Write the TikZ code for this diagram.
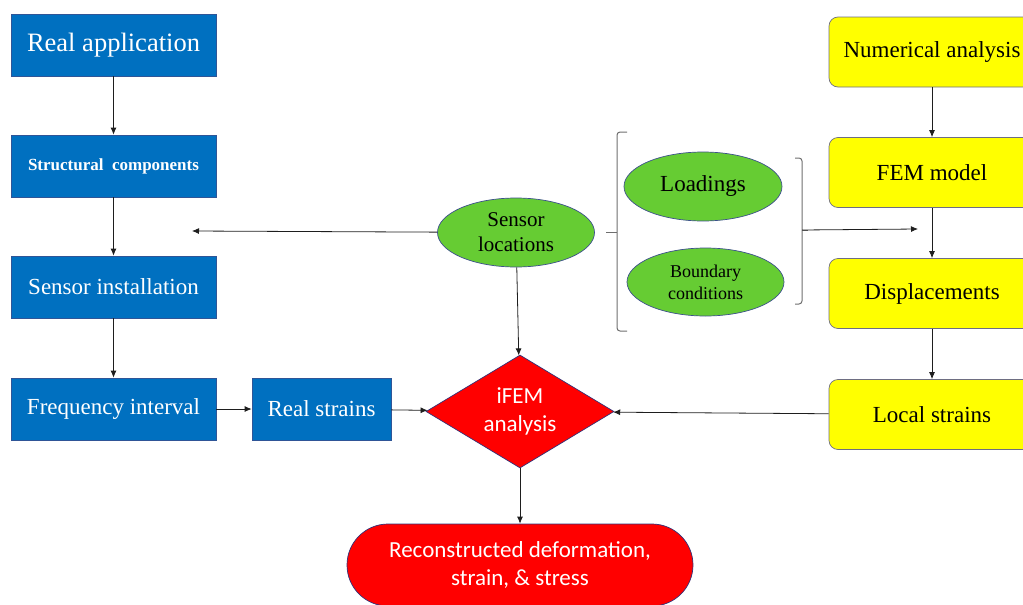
\documentclass[tikz,border=0pt]{standalone}
\usepackage{fontspec}
\setmainfont{Liberation Serif}
\newfontfamily\calib{Carlito}
\usetikzlibrary{shapes.geometric,arrows.meta}
\definecolor{bluefill}{RGB}{0,112,192}
\definecolor{blueedge}{RGB}{47,85,151}
\definecolor{yelfill}{RGB}{255,255,0}
\definecolor{yeledge}{RGB}{110,110,130}
\definecolor{grnfill}{RGB}{102,204,51}
\definecolor{grnedge}{RGB}{60,80,140}
\definecolor{redfill}{RGB}{255,0,0}
\definecolor{rededge}{RGB}{50,50,120}
\definecolor{lncol}{RGB}{30,30,30}
\definecolor{brkcol}{RGB}{110,110,110}
\newcommand\myfs[2]{\fontsize{#1}{#2}\selectfont}
\begin{document}
\begin{tikzpicture}[x=1pt,y=-1pt,
  bluebox/.style={draw=blueedge, fill=bluefill, text=white, minimum width=205pt, minimum height=62pt, inner sep=0pt, line width=0.7pt},
  yelbox/.style={draw=yeledge, fill=yelfill, rounded corners=9pt, minimum width=206pt, minimum height=70pt, inner sep=0pt, line width=0.7pt},
  grnell/.style={ellipse, draw=grnedge, fill=grnfill, inner sep=0pt, line width=0.7pt, align=center},
  redshape/.style={draw=rededge, fill=redfill, text=white, inner sep=0pt, line width=0.7pt, align=center, font=\calib\myfs{23}{28}},
  arr/.style={draw=lncol, line width=0.8pt, -{Latex[length=7pt,width=6pt]}},
  brk/.style={draw=brkcol, line width=1pt, rounded corners=3pt}]
\useasboundingbox (0,0) rectangle (1023,605);
% blue column
\node[bluebox, font=\myfs{26.5}{30}] (ra) at (113.5,45) {Real application};
\node[bluebox, font=\bfseries\myfs{17}{20}] (sc) at (113.5,166) {Structural\ \ components};
\node[bluebox, font=\myfs{23}{27}] (si) at (113.5,287) {Sensor installation};
\node[bluebox, font=\myfs{23}{27}] (fi) at (113.5,409) {Frequency interval};
\node[bluebox, font=\myfs{23}{27}, minimum width=139pt] (rs) at (321.5,409) {Real strains};
% yellow column
\node[yelbox, font=\myfs{23}{27}] (na) at (932,52) {Numerical analysis};
\node[yelbox, font=\myfs{23}{27}] (fem) at (932,172.5) {FEM model};
\node[yelbox, font=\myfs{23}{27}] (dis) at (932,293.5) {Displacements};
\node[yelbox, font=\myfs{23}{27}] (ls) at (932,414.5) {Local strains};
% green ellipses
\node[grnell, minimum width=157pt, minimum height=69pt, font=\myfs{21}{25}] (sl) at (516,232.5) {Sensor\\locations};
\node[grnell, minimum width=158pt, minimum height=69pt, font=\myfs{23}{27}] (ld) at (703,186.5) {Loadings};
\node[grnell, minimum width=157pt, minimum height=68pt, font=\myfs{18}{22}] (bc) at (705.5,282) {Boundary\\conditions};
% red shapes
\node[redshape, diamond, aspect=1.664, minimum width=188pt, minimum height=113pt] (if) at (520,411.5) {iFEM\\analysis};
\node[redshape, rectangle, rounded corners=41pt, minimum width=346pt, minimum height=82pt] (rec) at (520,565) {Reconstructed deformation,\\strain, \& stress};
% brackets
\draw[brk] (627,132) -- (617,132) -- (617,331) -- (627,331);
\draw[brk] (606,232) -- (617,232);
\draw[brk] (795,158) -- (802,158) -- (802,304) -- (795,304);
\coordinate (brR) at (802,230);
\draw[brk] (brR) -- (808,230);
\coordinate (femIn) at (918,229);
\coordinate (compIn) at (192,231);
% connectors
\draw[arr] (ra) -- (sc);
\draw[arr] (sc) -- (si);
\draw[arr] (si) -- (fi);
\draw[arr] (fi) -- (rs);
\draw[arr] (rs) -- (if);
\draw[arr] (na) -- (fem);
\draw[arr] (fem) -- (dis);
\draw[arr] (dis) -- (ls);
\draw[arr] (ls) -- (if);
\draw[arr] (sl) -- (if);
\draw[arr] (if) -- (rec);
\draw[arr] (sl) -- (compIn);
\draw[arr] (brR) -- (femIn);
\end{tikzpicture}
\end{document}
